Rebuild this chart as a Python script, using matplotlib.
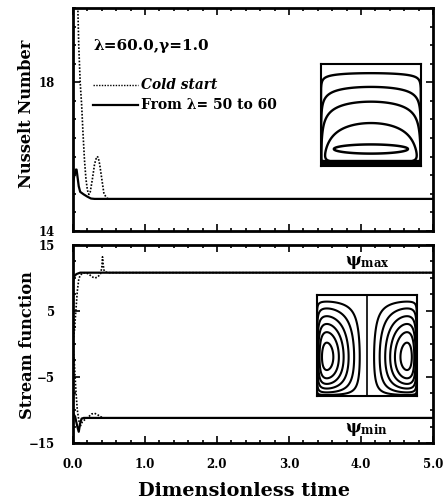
import numpy as np
import matplotlib
matplotlib.use("Agg")
import matplotlib.pyplot as plt
from matplotlib.ticker import MultipleLocator, FixedLocator

plt.rcParams['font.family'] = ['DejaVu Serif']
plt.rcParams['font.weight'] = 'bold'
plt.rcParams['mathtext.fontset'] = 'dejavuserif'

# ---- data ----
nu_warm_t = [0.0, 0.02, 0.04, 0.05, 0.06, 0.08, 0.10, 0.15, 0.20, 0.25, 0.30, 5.0]
nu_warm = [15.3, 15.5, 15.65, 15.65, 15.5, 15.2, 15.05, 14.98, 14.92, 14.87, 14.86, 14.86]

nu_cold_t = [0.065, 0.08, 0.10, 0.12, 0.14, 0.16, 0.18, 0.20, 0.22, 0.24, 0.27, 0.30,
             0.33, 0.35, 0.37, 0.40, 0.43, 0.47, 0.50, 5.0]
nu_cold = [20.2, 19.0, 18.0, 17.4, 16.6, 15.9, 15.4, 15.1, 14.98, 15.05, 15.4, 15.8,
           16.0, 15.98, 15.8, 15.4, 15.0, 14.88, 14.86, 14.86]

psimax_warm_t = [0.0, 0.02, 0.05, 0.10, 0.15, 5.0]
psimax_warm = [9.5, 10.3, 10.6, 10.8, 10.8, 10.8]
psimax_cold_t = [0.0, 0.02, 0.04, 0.06, 0.08, 0.10, 0.13, 0.17, 0.22, 0.26, 0.30, 0.34,
                 0.38, 0.40, 0.41, 0.42, 0.43, 0.45, 0.50, 5.0]
psimax_cold = [0.5, 2.0, 5.0, 8.0, 9.8, 10.4, 10.7, 10.8, 10.6, 10.2, 10.0, 10.1,
               10.6, 11.5, 13.2, 12.0, 11.2, 10.9, 10.8, 10.8]

psimin_warm_t = [0.0, 0.03, 0.06, 0.08, 0.10, 0.12, 0.15, 5.0]
psimin_warm = [-10.5, -11.0, -12.5, -13.3, -12.0, -11.3, -11.2, -11.2]
psimin_cold_t = [0.0, 0.02, 0.04, 0.06, 0.08, 0.10, 0.13, 0.17, 0.22, 0.26, 0.30, 0.34,
                 0.38, 0.42, 0.50, 5.0]
psimin_cold = [-0.5, -3.0, -7.0, -10.0, -11.5, -12.5, -11.8, -11.4, -11.0, -10.6, -10.5,
               -10.7, -11.0, -11.2, -11.2, -11.2]

x_ticks = [0, 1, 2, 3, 4, 5]
x_labels = ['0.0', '1.0', '2.0', '3.0', '4.0', '5.0']
nu_ticks = [14, 18]
psi_ticks = [-15, -5, 5, 15]

fig = plt.figure(figsize=(4.45, 5.04), dpi=100)
ax1 = fig.add_axes([0.164, 0.542, 0.809, 0.442])
ax2 = fig.add_axes([0.164, 0.121, 0.809, 0.393])

def style(ax):
    for s in ax.spines.values():
        s.set_linewidth(2)
    ax.tick_params(which='both', direction='in', top=True, right=True, width=1.2,
                   labelsize=8.5)
    ax.tick_params(which='major', length=5)
    ax.tick_params(which='minor', length=2.5)
    ax.tick_params(axis='y', pad=13)
    ax.xaxis.set_major_locator(FixedLocator(x_ticks))
    ax.xaxis.set_minor_locator(MultipleLocator(0.2))

# top panel
ax1.plot(nu_cold_t, nu_cold, color='black', lw=1.2, ls=(0, (1, 1)))
ax1.plot(nu_warm_t, nu_warm, color='black', lw=1.6)
ax1.set_xlim(0, 5)
ax1.set_ylim(14, 20)
style(ax1)
ax1.yaxis.set_major_locator(FixedLocator(nu_ticks))
ax1.yaxis.set_minor_locator(MultipleLocator(0.5))
ax1.set_xticklabels([])
ax1.set_ylabel('Nusselt Number', fontsize=11.7, fontweight='bold', va='center')
ax1.yaxis.set_label_coords(-0.128, 0.525)
ax1.text(0.28, 18.97, 'λ=60.0,γ=1.0', fontsize=11, fontweight='bold', va='center')
ax1.plot([0.28, 0.9], [17.92, 17.92], color='black', lw=1.0, ls=(0, (1, 1)))
ax1.plot([0.28, 0.9], [17.4, 17.4], color='black', lw=1.6)
ax1.text(0.94, 17.92, 'Cold start', fontsize=9.9, fontweight='bold', style='italic',
         va='center')
ax1.text(0.94, 17.4, 'From λ= 50 to 60', fontsize=10, fontweight='bold', va='center')

# bottom panel
ax2.plot(psimax_cold_t, psimax_cold, color='black', lw=1.2, ls=(0, (1, 1)))
ax2.plot(psimin_cold_t, psimin_cold, color='black', lw=1.2, ls=(0, (1, 1)))
ax2.plot(psimax_warm_t, psimax_warm, color='black', lw=1.6)
ax2.plot(psimin_warm_t, psimin_warm, color='black', lw=1.6)
ax2.set_xlim(0, 5)
ax2.set_ylim(-15, 15)
style(ax2)
ax2.yaxis.set_major_locator(FixedLocator(psi_ticks))
ax2.yaxis.set_minor_locator(MultipleLocator(2.5))
ax2.set_xticklabels(x_labels)
ax2.tick_params(axis='x', pad=11)
ax2.set_ylabel('Stream function', fontsize=11.7, fontweight='bold', va='center')
ax2.yaxis.set_label_coords(-0.125, 0.495)
ax2.set_xlabel('Dimensionless time', fontsize=13.9, fontweight='bold', va='center')
ax2.xaxis.set_label_coords(0.475, -0.242)
ax2.text(3.78, 11.0, r'$\mathbf{\psi_{max}}$', fontsize=12, va='bottom')
ax2.text(3.78, -11.7, r'$\mathbf{\psi_{min}}$', fontsize=12, va='top')

# inset: isotherms (schematic)
ins1 = fig.add_axes([0.721, 0.671, 0.225, 0.202])
gx, gy = np.meshgrid(np.linspace(0, 1, 400), np.linspace(0, 1, 400))
T = np.sin(np.pi * gx) ** 0.2 * (1 - gy) * (1 - np.exp(-gy / 0.03))
ins1.contour(gx, gy, T, levels=[0.09, 0.225, 0.37, 0.58], colors='black',
             linewidths=1.7)
E = ((gx - 0.5) / 0.37) ** 2 + ((gy - 0.165) / 0.045) ** 2
ins1.contour(gx, gy, E, levels=[1.0], colors='black', linewidths=1.8)
ins1.axhspan(0, 0.06, color='black')
ins1.set_xlim(0, 1); ins1.set_ylim(0, 1)
ins1.set_xticks([]); ins1.set_yticks([])
for s in ins1.spines.values():
    s.set_linewidth(1.5)

# inset: streamlines (schematic)
ins2 = fig.add_axes([0.712, 0.214, 0.225, 0.200])
u = np.where(gx < 0.5, 2 * gx, 2 * (1 - gx))
A = u ** 0.35 * (1 - u) ** 1.4
B = gy ** 0.7 * (1 - gy) ** 1.1
P = A * B
P = P / P.max()
ins2.contour(gx, gy, P, levels=[0.15, 0.32, 0.5, 0.66, 0.8, 0.93], colors='black',
             linewidths=1.5)
ins2.axvline(0.5, color='black', lw=1.2)
ins2.set_xlim(0, 1); ins2.set_ylim(0, 1)
ins2.set_xticks([]); ins2.set_yticks([])
for s in ins2.spines.values():
    s.set_linewidth(1.5)

fig.savefig('out.png', dpi=100)
